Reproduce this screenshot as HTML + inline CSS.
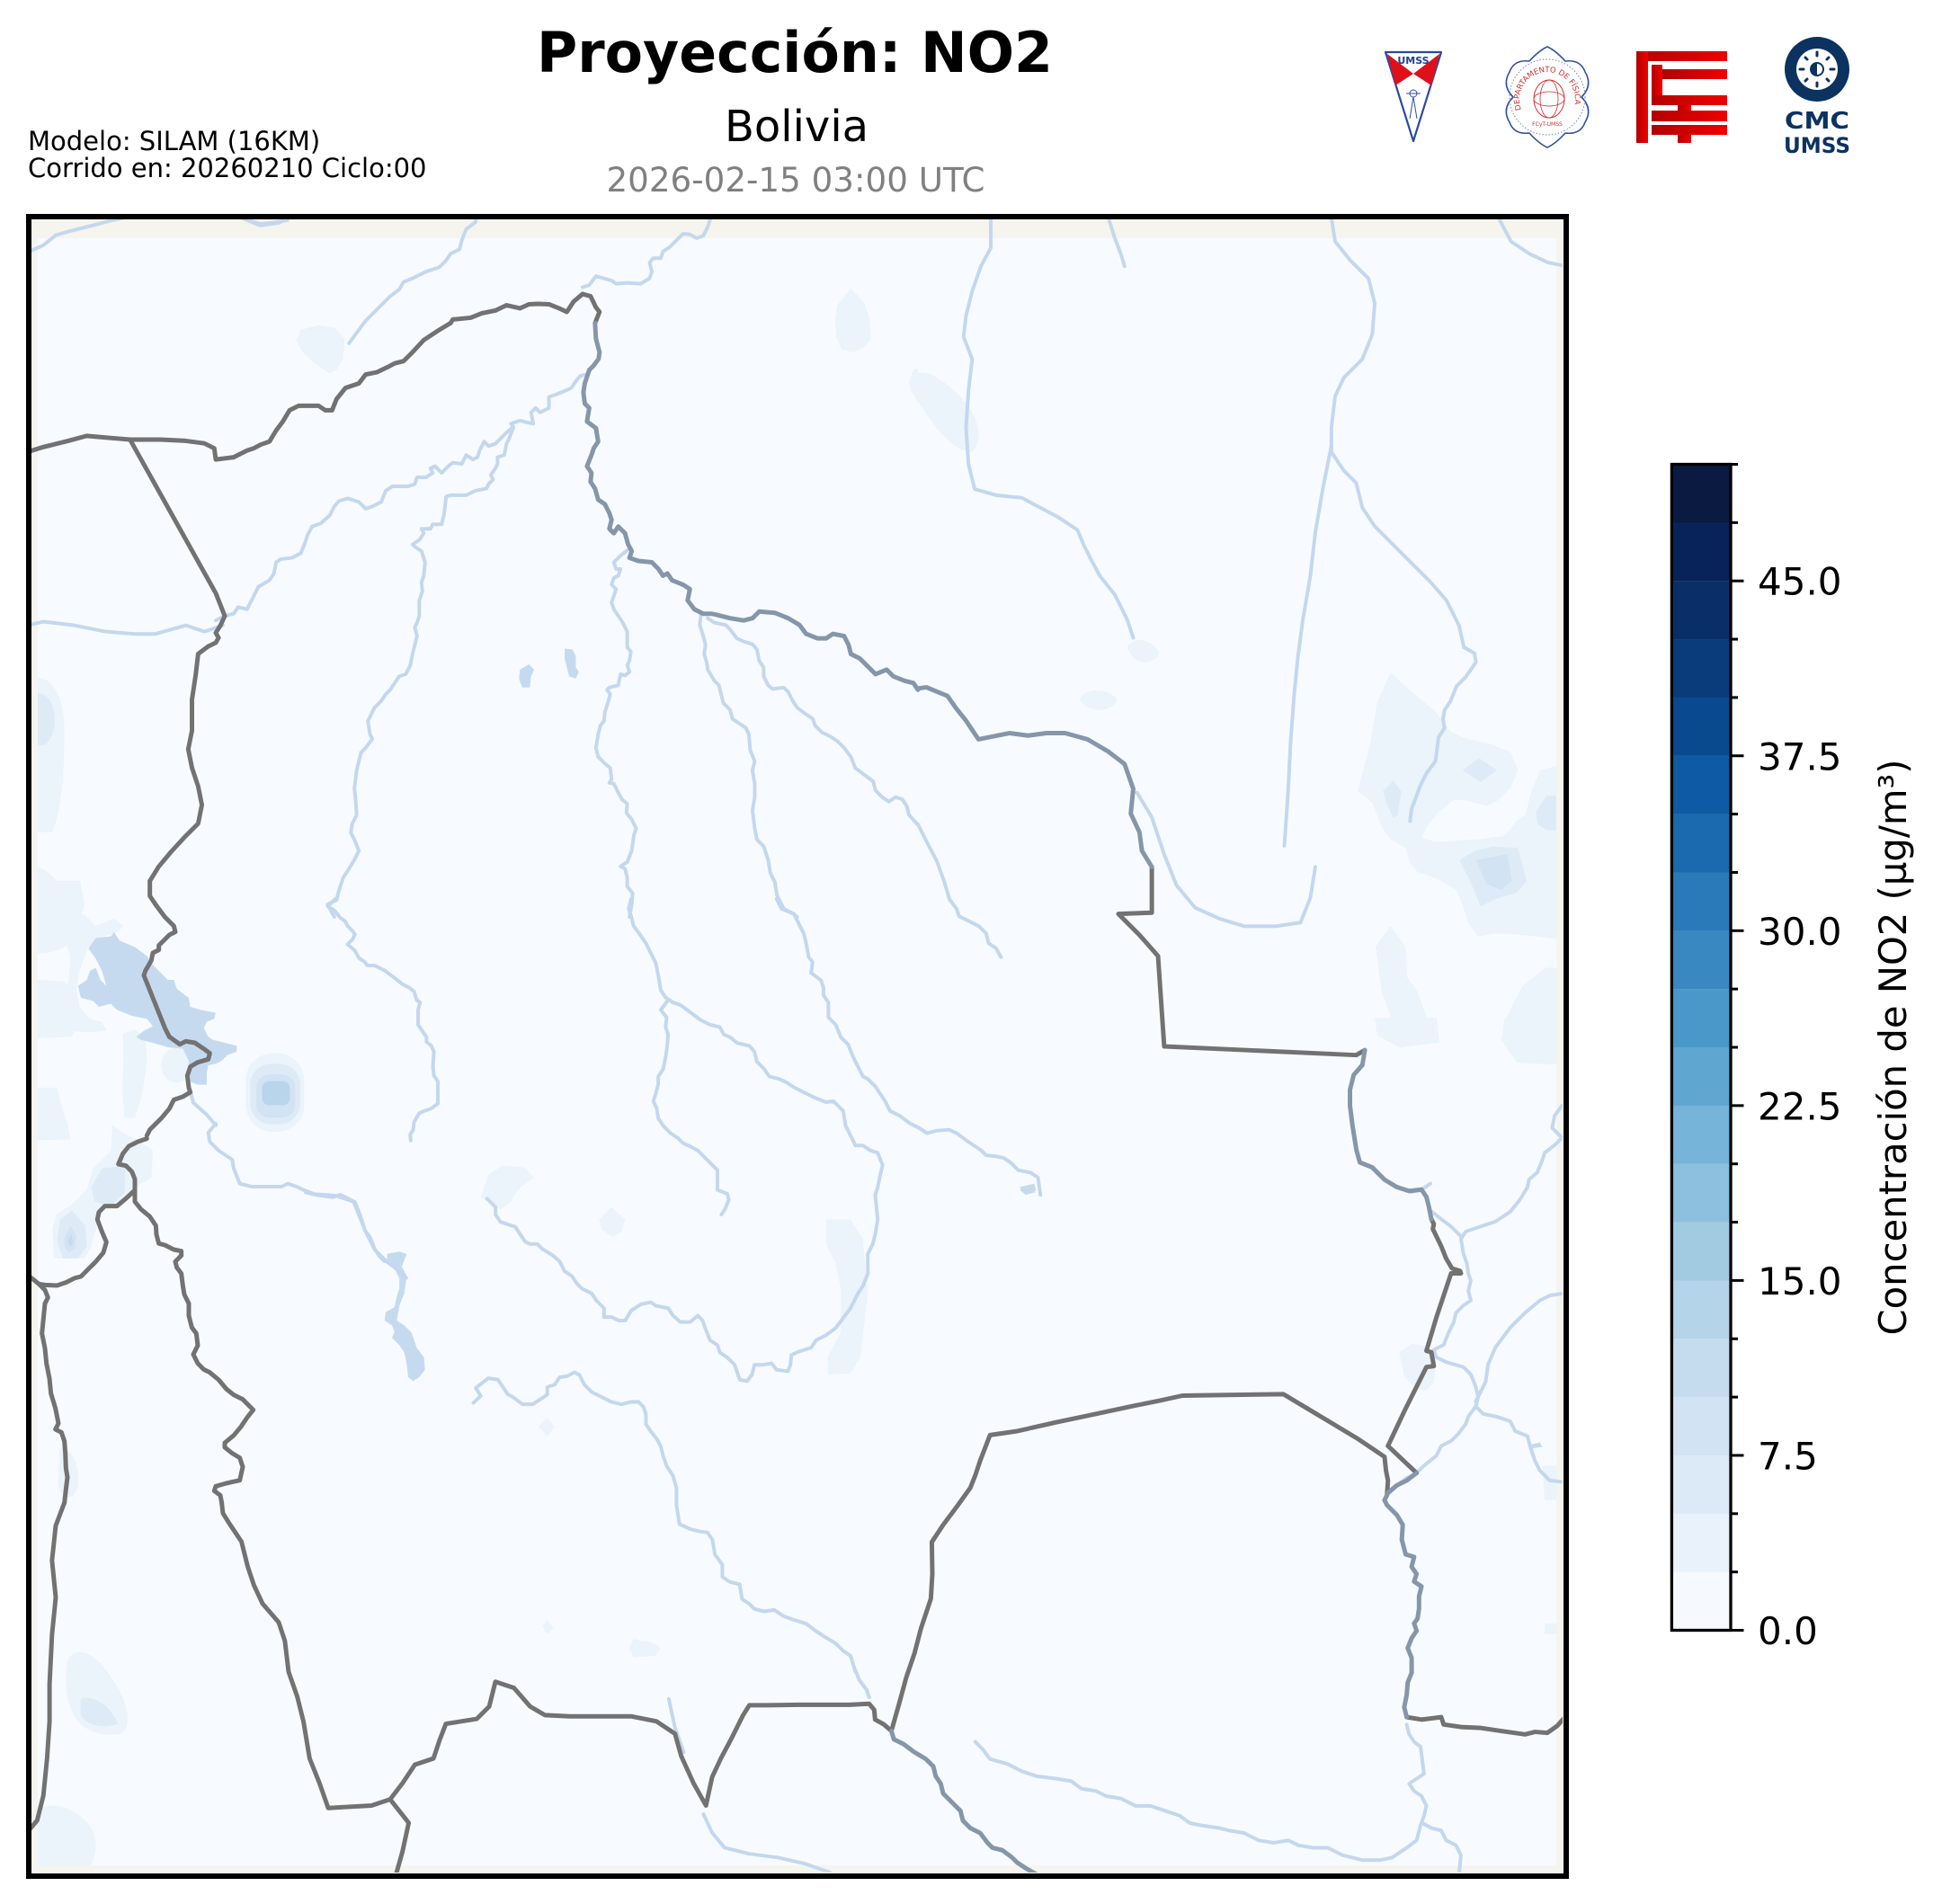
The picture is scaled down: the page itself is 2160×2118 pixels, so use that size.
<!DOCTYPE html>
<html>
<head>
<meta charset="utf-8">
<style>
html,body{margin:0;padding:0;background:#fff;}
svg{display:block;}
text{font-family:"DejaVu Sans","Liberation Sans",sans-serif;}
</style>
</head>
<body>
<svg xmlns="http://www.w3.org/2000/svg" width="2160" height="2118" viewBox="0 0 2160 2118">
<defs>
  <clipPath id="inner"><rect x="35" y="244" width="1703" height="1839"/></clipPath>
  <clipPath id="data"><rect x="42" y="265" width="1689" height="1810"/></clipPath>
  <linearGradient id="fg" x1="0" x2="1" y1="0" y2="0"><stop offset="0" stop-color="#b30000"/><stop offset="1" stop-color="#f00000"/></linearGradient>
  <path id="sealarc" d="M1692,122 A31,31 0 1 1 1750,122"/>
</defs>
<rect width="2160" height="2118" fill="#fff"/>

<!-- Header text -->
<text x="884" y="80" font-size="62" font-weight="bold" text-anchor="middle" textLength="574" lengthAdjust="spacingAndGlyphs">Proyección: NO2</text>
<text x="886" y="157" font-size="48" text-anchor="middle">Bolivia</text>
<text x="885" y="213" font-size="37" fill="#808080" text-anchor="middle" textLength="421" lengthAdjust="spacingAndGlyphs">2026-02-15 03:00 UTC</text>
<text x="31" y="167" font-size="29">Modelo: SILAM (16KM)</text>
<text x="31" y="197" font-size="29">Corrido en: 20260210 Ciclo:00</text>

<!-- Logo 1 UMSS -->
<polygon points="1541,58 1603,58 1572,157" fill="#fff" stroke="#2b4aa0" stroke-width="2.2" stroke-linejoin="round"/>
<polygon points="1543,60 1572,82 1552,95" fill="#e0101a"/>
<polygon points="1601,60 1572,82 1592,95" fill="#e0101a"/>
<text x="1572" y="71" font-size="11" font-weight="bold" fill="#1e3f9a" text-anchor="middle">UMSS</text>
<circle cx="1572" cy="104" r="4" fill="none" stroke="#3050a8" stroke-width="1"/>
<line x1="1572" y1="108" x2="1568" y2="132" stroke="#3050a8" stroke-width="1"/>
<line x1="1572" y1="108" x2="1576" y2="132" stroke="#3050a8" stroke-width="1"/>
<line x1="1564" y1="104" x2="1580" y2="104" stroke="#3050a8" stroke-width="1"/>

<!-- Logo 2 Dept Fisica -->
<path d="M1759,108 Q1772,121 1763,136 Q1758,150 1741,148 Q1730,160 1721,164 Q1712,160 1701,148 Q1684,150 1679,136 Q1670,121 1683,108 Q1670,95 1679,80 Q1684,66 1701,68 Q1712,56 1721,52 Q1730,56 1741,68 Q1758,66 1763,80 Q1772,95 1759,108Z" fill="#fff" stroke="#3050a0" stroke-width="1.6" stroke-linejoin="round"/>
<circle cx="1721" cy="108" r="42" fill="none" stroke="#7080c0" stroke-width="1" stroke-dasharray="1.5 2"/>
<ellipse cx="1723" cy="110" rx="17" ry="21" fill="none" stroke="#d03030" stroke-width="1"/>
<ellipse cx="1723" cy="110" rx="10" ry="21" fill="none" stroke="#d03030" stroke-width="0.8"/>
<ellipse cx="1723" cy="110" rx="17" ry="8" fill="none" stroke="#d03030" stroke-width="0.8"/>
<text font-size="8.5" fill="#c83030"><textPath href="#sealarc">DEPARTAMENTO DE FÍSICA</textPath></text>
<text x="1721" y="140" font-size="6" fill="#c83030" text-anchor="middle">FCyT-UMSS</text>

<!-- Logo 3 FCyT -->
<g fill="url(#fg)">
  <rect x="1820" y="57" width="101" height="11"/>
  <rect x="1820" y="57" width="13" height="102"/>
  <rect x="1849" y="77" width="72" height="11"/>
  <rect x="1837" y="72" width="12" height="45"/>
  <rect x="1837" y="106" width="84" height="11"/>
  <rect x="1866" y="117" width="15" height="7"/>
  <rect x="1837" y="123" width="84" height="12"/>
  <rect x="1837" y="139" width="84" height="11"/>
  <rect x="1866" y="150" width="15" height="9"/>
</g>

<!-- Logo 4 CMC -->
<circle cx="2021" cy="77" r="36" fill="#0c3260"/>
<circle cx="2021" cy="77" r="23" fill="#fff"/>
<circle cx="2021" cy="77" r="8" fill="#0c3260"/>
<path d="M2021,71 A6,6 0 0 1 2021,83 Z" fill="#fff"/>
<g stroke="#0c3260" stroke-width="3" stroke-linecap="round">
  <line x1="2021" y1="58" x2="2021" y2="62"/>
  <line x1="2021" y1="92" x2="2021" y2="96"/>
  <line x1="2002" y1="77" x2="2006" y2="77"/>
  <line x1="2036" y1="77" x2="2040" y2="77"/>
  <line x1="2008" y1="64" x2="2010" y2="66"/>
  <line x1="2032" y1="88" x2="2034" y2="90"/>
  <line x1="2034" y1="64" x2="2032" y2="66"/>
  <line x1="2008" y1="90" x2="2010" y2="88"/>
</g>
<text x="2021" y="143" font-size="26" font-weight="bold" fill="#0c3260" text-anchor="middle" textLength="72" lengthAdjust="spacingAndGlyphs">CMC</text>
<text x="2021" y="170" font-size="24" font-weight="bold" fill="#0c3260" text-anchor="middle" textLength="74" lengthAdjust="spacingAndGlyphs">UMSS</text>

<!-- MAP -->
<g clip-path="url(#inner)">
  <rect x="35" y="244" width="1703" height="1839" fill="#f5f5ee"/>
  <rect x="42" y="265" width="1689" height="1810" fill="#f7fbff"/>

  <!-- contour blobs -->
  <g clip-path="url(#data)">
    <g transform="scale(1.377551)" fill="#ebf3fb">
      <path d="M735,305 C745,295 760,305 775,320 C790,335 795,355 785,365 C770,365 755,345 745,330 C738,320 732,312 735,305Z"/>
      <path d="M910,522 C918,512 932,518 936,528 C930,538 915,538 910,522Z"/>
      <path d="M872,565 C875,555 895,555 902,565 C898,576 878,576 872,565Z"/>
      <path d="M28,548 C40,545 52,560 52,590 C52,620 50,655 42,672 L28,672Z"/>
      <path d="M28,700 C40,700 55,720 62,745 C62,762 50,770 28,770Z"/>
      <path d="M1110,822 L1160,822 L1162,842 L1130,846 L1112,836Z"/>
      <path d="M1215,822 L1262,815 L1262,860 L1225,858 L1212,840Z"/>
      <path d="M55,1340 C62,1328 78,1335 90,1355 C102,1372 108,1392 98,1400 C82,1403 65,1398 58,1382 C52,1368 52,1352 55,1340Z"/>
      <path d="M28,1462 C45,1452 65,1462 75,1478 C80,1492 76,1505 70,1510 L28,1510Z"/>
      <path d="M508,1330 C515,1322 530,1325 533,1332 C528,1340 512,1340 508,1330Z"/>
      <path d="M48,1170 C58,1168 65,1185 63,1200 C60,1212 50,1212 47,1200Z"/>
      <path fill="#deebf7" d="M28,560 C38,558 45,568 44,585 C42,600 35,605 28,600Z"/>
      <path fill="#deebf7" d="M65,1372 C75,1368 90,1378 95,1392 C85,1396 70,1394 65,1385Z"/>
    </g>
    <g transform="translate(30,980) scale(0.333333)" fill="#ebf3fb">
      <path d="M35,0 L178,0 L192,80 L180,115 L125,118 L100,80 L35,80Z"/>
      <path d="M125,115 L190,110 L230,150 L290,125 L322,150 L300,172 L240,190 L205,220 L175,300 L165,360 L175,420 L210,460 L250,470 L265,500 L200,505 L150,500 L130,460 L120,400 L140,330 L145,250 L120,180Z"/>
      <path d="M35,330 L120,335 L150,360 L150,440 L170,480 L150,520 L35,525Z"/>
      <path d="M35,690 L100,690 L115,750 L135,810 L145,862 L35,865Z"/>
      <path d="M320,510 L360,495 L395,525 L400,580 L395,650 L380,730 L360,790 L325,790 L318,700 L322,600Z"/>
      <ellipse cx="498" cy="615" rx="50" ry="58"/>
      <path d="M285,815 L320,840 L380,870 L420,900 L415,990 L380,1010 L330,1060 L300,1080 L260,1090 L240,1130 L210,1230 L190,1260 L90,1260 L85,1160 L100,1110 L150,1080 L200,1030 L220,960 L280,900Z"/>
      <rect x="730" y="575" width="195" height="262" rx="90"/>
      <rect x="745" y="610" width="167" height="202" rx="70" fill="#deebf7"/>
      <rect x="765" y="645" width="130" height="145" rx="45" fill="#d2e3f3"/>
      <rect x="785" y="668" width="92" height="80" rx="22" fill="#b9d5eb"/>
      <path d="M250,960 L330,950 L325,1040 L280,1085 L225,1070 L215,1020Z" fill="#deebf7"/>
      <path d="M110,1130 L150,1100 L195,1150 L200,1220 L170,1260 L120,1260 L100,1200Z" fill="#deebf7"/>
      <path d="M125,1190 L145,1150 L165,1185 L160,1225 L140,1240 L125,1220Z" fill="#d2e3f3"/>
      <path d="M135,1200 L147,1180 L155,1205 L145,1220Z" fill="#c6dbef"/>
    </g>
    <g transform="translate(1480,720) scale(0.333333)" fill="#ebf3fb">
      <path d="M90,480 L130,330 L155,185 L200,85 L260,140 L350,215 L400,280 L440,300 L540,325 L600,350 L625,410 L600,470 L560,510 L520,530 L450,510 L410,510 L360,550 L320,600 L305,635 L350,650 L420,645 L500,640 L580,630 L620,580 L650,560 L670,480 L700,410 L760,395 L760,975 L650,960 L550,955 L490,965 L460,920 L440,860 L420,810 L350,770 L290,750 L265,720 L250,670 L200,640 L170,600 L140,520Z"/>
      <path d="M150,1000 L200,930 L250,1000 L255,1100 L290,1150 L330,1260 L210,1260 L170,1150Z"/>
      <path d="M575,1260 L640,1130 L715,1070 L760,1070 L760,1260Z"/>
      <g fill="#deebf7">
        <path d="M175,480 L210,445 L235,480 L225,560 L210,570 L190,530Z"/>
        <path d="M440,410 L495,370 L555,410 L500,450Z"/>
        <path d="M430,710 L480,680 L540,665 L625,670 L655,780 L620,820 L550,840 L500,865 L470,790Z"/>
        <path d="M685,550 L720,495 L760,495 L760,610 L720,610 L690,590Z"/>
      </g>
      <path d="M485,710 L590,690 L605,780 L570,810 L520,790Z" fill="#d2e3f3"/>
    </g>
    <g transform="translate(240,240) scale(0.497449)" fill="#ebf3fb">
      <path d="M180,280 L190,255 L230,245 L265,250 L288,275 L285,320 L270,345 L255,353 L220,330 L195,305Z"/>
      <path d="M1385,230 L1390,200 L1420,162 L1450,195 L1462,230 L1465,275 L1450,295 L1425,305 L1400,300 L1387,270Z"/>
      <path d="M1550,370 L1560,345 L1570,340 L1570,410 L1555,395Z"/>
    </g>
    <g transform="translate(340,1000) scale(0.548469)" fill="#ebf3fb">
      <path d="M355,605 L370,560 L400,540 L445,545 L462,565 L430,590 L415,615 L395,630 L370,615Z"/>
      <path d="M595,650 L620,625 L648,650 L640,675 L622,685 L600,670Z"/>
      <path d="M1055,650 L1105,650 L1130,690 L1140,800 L1125,930 L1105,962 L1060,965 L1058,930 L1085,880 L1085,790 L1075,740 L1055,700Z"/>
      <path d="M472,1070 L490,1052 L505,1070 L490,1090Z"/>
      <path d="M480,1475 L490,1462 L502,1478 L490,1492Z"/>
      <path d="M655,1520 L665,1500 L715,1515 L710,1535 L665,1538Z"/>
    </g>
    <g transform="translate(890,1230) scale(0.548469)" fill="#ebf3fb">
      <path d="M1215,500 L1240,482 L1275,490 L1290,520 L1285,560 L1270,578 L1250,575 L1225,550Z"/>
      <path d="M1505,730 L1560,730 L1560,800 L1510,800Z"/>
      <path d="M1510,1050 L1535,1050 L1535,1072 L1510,1072Z"/>
    </g>
  </g>

  <!-- lakes -->
  <g fill="#c6daef">
    <path transform="translate(30,980) scale(0.333333)" d="M205,225 L230,190 L280,185 L290,170 L310,200 L360,220 L400,250 L420,280 L440,300 L470,330 L490,330 L500,360 L540,390 L545,420 L580,430 L630,440 L625,460 L600,470 L590,490 L605,520 L620,530 L660,540 L700,550 L700,570 L670,580 L650,600 L630,610 L605,615 L600,640 L600,680 L570,680 L545,670 L535,650 L540,600 L520,560 L470,555 L420,540 L380,530 L365,520 L390,500 L420,485 L400,460 L350,450 L300,430 L280,410 L240,420 L220,400 L180,390 L170,350 L200,330 L210,300 L230,290 L245,330 L265,350 L250,300 L230,260Z"/>
    <g transform="translate(240,240) scale(0.497449)">
      <path d="M680,1015 L700,1003 L712,1015 L705,1030 L702,1055 L685,1055 L678,1035Z"/>
      <path d="M780,968 L798,970 L805,985 L805,1010 L812,1020 L805,1035 L790,1030 L785,1010 L780,990Z"/>
    </g>
    <g transform="translate(340,1000) scale(0.548469)">
      <path d="M165,720 L190,715 L205,720 L195,745 L205,765 L200,800 L190,825 L185,855 L200,865 L215,880 L225,910 L240,930 L242,955 L230,970 L218,978 L208,970 L205,945 L200,920 L190,905 L175,890 L180,878 L175,865 L160,855 L162,838 L180,828 L185,805 L190,790 L190,770 L180,750 L165,740Z"/>
      <path d="M1448,590 L1470,580 L1480,595 L1460,600Z"/>
    </g>
    <g transform="translate(890,1230) scale(0.548469)">
      <path d="M445,165 L475,158 L478,172 L455,178Z"/>
      <path d="M1478,688 L1500,683 L1505,692 L1485,695Z"/>
    </g>
  </g>

  <!-- rivers -->
  <g fill="none" stroke="#c4d7ee" stroke-linejoin="round" stroke-linecap="round">
    <g transform="scale(1.377551)" stroke-width="2.9">
      <polyline points="22,204 35,198 45,190 55,187 75,182 90,178 100,176"/>
      <polyline points="195,176 210,182 225,180 233,176"/>
      <polyline points="22,505 35,502 60,505 85,510 110,512 125,512 150,505 165,510 180,505"/>
      <polyline points="800,176 800,200 792,215 785,235 780,255 778,272 785,290 782,315 780,345 782,375 787,395 805,400 825,402 840,410 855,418 870,428 875,440 880,450 888,465 900,480 910,500 915,515"/>
      <polyline points="895,176 900,192 905,205 908,215"/>
      <polyline points="1075,176 1078,195 1090,210 1105,225 1110,245 1108,270 1100,290 1085,305 1078,320 1075,345 1075,365 1085,380 1095,390 1100,410 1110,425 1125,440 1140,455 1155,470 1168,485 1178,505 1182,522.7"/>
      <polyline points="1075,360 1068,395 1062,430 1058,465 1052,500 1048,530 1045,560 1042,600 1040,640 1037,683"/>
      <polyline points="1210,176 1220,195 1235,205 1250,212 1265,215"/>
      <polyline points="918,640 930,660 940,690 950,715 965,733 985,742 1005,748 1030,748 1050,745 1058,725 1062,700"/>
      <polyline points="568,1465 575,1480 585,1492 605,1497 628,1500 650,1505 670,1512"/>
      <polyline points="540,1372 545,1395 552,1415"/>
    </g>
    <polyline stroke-width="4" points="1021,917 1030,935 1042,958 1050,980 1056,1000"/>
    <g transform="translate(240,240) scale(0.497449)" stroke-width="8">
      <polyline points="0,905 20,895 40,890 50,875 70,880 85,850 95,830 120,815 130,800 135,775 145,768 170,765 190,755 200,730 205,715 215,695 235,688 255,670 265,650 275,638 295,632 320,640 335,655 350,650 370,640 380,615 395,605 430,605 445,600 450,585 470,585 485,575 480,565 490,560 505,575 520,560 530,552 550,555 560,535 575,545 585,540 590,525 600,505 610,515 625,510 640,495 650,485 665,472 660,465 680,458 695,462 710,465 705,440 715,430 725,440 745,430 745,405 760,400 780,392 795,385 805,370 815,358 830,355"/>
      <polyline points="665,475 655,500 650,510 645,535 630,540 630,555 625,565 615,580 620,590 610,600 605,610 580,615 560,625 525,625 515,628 512,655 510,670 505,690 485,690 480,700 460,700 465,710 455,725 440,735 445,740 460,750 468,775 465,805 460,820 462,840 455,860 455,885 455,895 450,910 445,920 450,940 440,980 435,1005 425,1025 410,1030 400,1045 390,1060 380,1070 370,1085 355,1100 340,1130 345,1160 350,1170 335,1190 325,1200 320,1220 315,1240 310,1280 313,1310 315,1340 305,1360 302,1380 310,1395 320,1420 310,1440 295,1465 285,1480 275,1510 270,1530 250,1540 265,1568"/>
      <polyline points="298,285 320,255 335,235 350,220 370,200 390,180 410,165 420,148 440,140 470,125 500,115 515,100 525,85 545,75 550,55 560,30 580,15 585,0"/>
      <polyline points="820,160 835,155 850,135 885,145 895,152 920,150 950,152 970,140 975,125 970,105 978,95 995,95 1000,80 1015,70 1030,55 1045,40 1060,42 1075,50 1090,45 1100,25 1108,0"/>
      <polyline points="70,10 100,18 130,15 160,10"/>
      <polyline points="920,748 905,760 890,775 895,790 905,790 900,805 890,810 885,825 895,835 890,850 885,865 890,880 910,910 920,930 920,965 928,975 925,995 920,1005 925,1020 915,1028 905,1025 900,1050 880,1055 875,1060 882,1070 878,1085 870,1110 868,1130 860,1140 855,1160 850,1190 855,1210 870,1225 882,1235 885,1260 880,1268 890,1270 900,1290 908,1305 920,1315 918,1335 930,1350 940,1370 935,1385 930,1420 920,1445 905,1455 915,1460 920,1480 920,1500 932,1515 930,1540 925,1568"/>
      <polyline points="1085,890 1082,915 1090,940 1095,960 1092,980 1098,1000 1100,1015 1115,1040 1125,1050 1130,1070 1135,1090 1150,1105 1155,1125 1170,1135 1185,1145 1192,1160 1195,1195 1205,1220 1200,1240 1205,1270 1205,1300 1200,1330 1205,1370 1210,1395 1225,1410 1235,1440 1240,1470 1250,1490 1255,1520 1270,1550 1290,1560 1300,1568"/>
      <polyline points="1100,900 1115,910 1140,915 1150,925 1165,945 1180,952 1200,958 1210,970 1215,995 1225,1010 1225,1030 1235,1050 1245,1058 1270,1055 1280,1065 1290,1085 1300,1100 1320,1115 1335,1125 1340,1140 1355,1155 1375,1165 1390,1175 1405,1190 1420,1210 1430,1235 1450,1250 1470,1265 1475,1285 1490,1300 1505,1310 1520,1300 1535,1305 1545,1320 1550,1340 1570,1362"/>
    </g>
    <g transform="translate(30,980) scale(0.333333)" stroke-width="12">
      <polyline points="545,700 555,740 600,780 630,815"/>
    </g>
    <g transform="translate(30,1250) scale(0.333333)" stroke-width="12">
      <polyline points="630,0 605,30 610,60 640,90 685,120 690,150 710,200 750,210 800,210 850,210 870,200 900,210 920,220 960,235 1030,240 1090,260 1110,310 1130,360 1160,420 1200,460 1240,490 1265,515"/>
    </g>
    <g transform="translate(1480,720) scale(0.333333)" stroke-width="12">
      <polyline points="445,0 480,20 485,50 450,100 420,130 400,180 380,210 375,240 380,270 360,300 355,340 350,380 320,420 300,460 285,500 270,540 265,580"/>
    </g>
    <g transform="translate(340,1000) scale(0.548469)" stroke-width="7.3">
      <polyline points="60,0 45,15 60,25 70,38 80,45 85,55 95,65 100,72 95,82 85,92 100,105 108,120 120,128 125,135 140,135 160,145 180,160 195,172 210,180 220,188 225,205 232,210 228,225 228,255 238,270 245,280 245,290 255,298 260,310 258,340 260,358 268,370 268,400 268,415 255,425 240,430 230,435 220,452 218,468 212,478 213,490"/>
      <polyline points="660,0 655,20 660,35 665,55 680,75 690,90 700,110 710,130 715,155 720,185 730,200 745,210 760,215 780,230 800,245 820,255 840,260 848,275 860,280 875,292 900,298 910,310 915,330 930,345 940,360 960,365 975,372 990,382 1010,392 1030,402 1055,412 1070,410 1090,430 1095,460 1105,480 1115,500 1130,500 1145,510 1160,515 1170,540 1165,560 1160,585 1155,600 1160,650 1155,680 1150,700 1140,720 1140,760 1130,785 1120,800 1105,830 1090,850 1075,870 1055,885 1035,895 1025,910 1000,918 985,925 983,945 978,958 955,955 945,942 925,945 910,945 905,965 895,978 880,975 870,945 855,930 840,920 835,905 820,895 810,870 805,855 795,845 780,858 760,858 745,845 735,830 710,825 700,818 680,822 660,835 648,855 635,855 620,848 605,848 605,830 590,815 580,800 560,790 550,780 540,765 525,755 515,735 500,722 480,710 470,700 455,700 445,695 435,680 425,665 410,660 395,655 385,640 385,625 375,615 368,608"/>
      <polyline points="735,205 720,225 732,240 730,260 735,275 733,300 730,320 725,345 715,360 715,375 710,395 705,410 712,425 715,445 725,460 740,475 755,485 765,495 780,502 795,510 810,525 825,540 835,550 835,570 835,590 855,598 858,610 850,630 843,640"/>
      <polyline points="955,0 965,20 990,30 1000,50 1010,70 1015,90 1020,118 1028,128 1025,150 1045,165 1050,180 1050,195 1060,210 1060,240 1075,255 1085,280 1100,295 1110,320 1120,340 1130,360 1140,365 1155,380 1165,395 1175,410 1185,430 1205,440 1225,455 1245,465 1260,475 1280,470 1305,468 1320,475 1340,490 1355,500 1370,510 1380,520 1400,522 1415,525 1430,535 1445,550 1470,555 1485,565 1490,600"/>
      <polyline points="1305,0 1320,20 1325,35 1345,45 1365,55 1380,70 1385,90 1400,100 1410,118"/>
      <polyline points="0,595 20,600 55,605 70,600 85,607 100,615 108,635 115,655 120,672 130,685 140,710 150,725 160,735"/>
      <polyline points="340,1022 355,1008 345,992 360,980 370,972 390,975 400,990 410,1005 420,1010 440,1025 460,1025 480,1012 490,1005 490,990 505,985 515,970 530,968 545,960 555,965 565,985 580,1000 600,1010 620,1020 640,1025 660,1020 675,1020 685,1030 690,1045 690,1065 700,1080 712,1095 720,1110 725,1130 732,1150 745,1170 752,1195 752,1230 758,1268 780,1278 800,1283 815,1285 825,1300 830,1330 845,1350 845,1375 860,1385 880,1390 885,1420 900,1430 910,1440 930,1445 950,1442 970,1455 990,1462 1015,1470 1035,1485 1050,1495 1075,1510 1090,1525 1105,1535 1115,1568"/>
    </g>
    <g transform="translate(890,1230) scale(0.548469)" stroke-width="7.3">
      <polyline points="110,1140 120,1165 135,1185 140,1200"/>
      <polyline points="355,1290 370,1305 385,1325 420,1335 450,1350 480,1360 520,1365 550,1370 570,1385 600,1390 620,1400 650,1405 680,1420 710,1420 740,1430 770,1440 790,1455 815,1460 850,1465 870,1470 900,1475 930,1490 960,1495 990,1490 1010,1500 1040,1505 1070,1505 1100,1520 1140,1530 1175,1530 1200,1525 1230,1505 1250,1490 1258,1460 1265,1440 1270,1420 1260,1400 1245,1390 1235,1375 1250,1365 1265,1355 1262,1330 1258,1300 1245,1290 1235,1275 1230,1255"/>
      <polyline points="1262,1455 1280,1465 1300,1470 1310,1490 1330,1500 1340,1520 1335,1570"/>
      <polyline points="1190,790 1210,770 1230,755 1250,745 1265,730 1290,710 1300,690 1320,680 1335,665 1350,645 1355,630 1370,610 1375,590 1370,570 1360,545 1345,530 1310,520 1290,510 1285,495 1305,485 1315,460 1325,440 1330,420 1345,405 1360,395 1355,375 1360,355 1355,340 1352,320 1345,300 1340,270 1350,255 1380,245 1410,235 1440,215 1460,190 1475,165 1478,150 1495,135 1505,110 1510,95 1530,80 1545,65"/>
      <polyline points="1545,0 1530,20 1525,45 1545,65 1565,80"/>
      <polyline points="1370,610 1385,625 1410,630 1440,640 1450,660 1475,670 1480,690 1490,720 1500,740 1520,760 1565,765"/>
      <polyline points="1370,600 1390,560 1395,525 1410,490 1440,450 1470,420 1500,395 1520,385 1565,378"/>
      <polyline points="1240,175 1260,170 1278,158"/>
      <polyline points="1275,210 1300,230 1320,245 1340,265"/>
    </g>
  </g>

  <!-- borders -->
  <g fill="none" stroke-linejoin="round" stroke-linecap="round">
    <g transform="scale(1.377551)" stroke-width="3.6">
      <g stroke="#727272">
        <polyline points="22,365 35,361 55,356 70,352 105,355 130,355 150,356 165,358 173,362 174.2,371"/>
        <polyline points="105,355 174.2,479 181.5,497.4 178,505 174.2,511 176.5,515 174.2,519 168,522 160,528 158,545 155,565 155,590 152,605 155,620 160,635 163,650 160,665 150,675 138,688 128,700 121,711.4"/>
        <polyline points="179,1213.5 180,1222 185,1230 195,1245 200,1265 205,1280 212,1295 225,1310 230,1325 233,1350 240,1370 245,1390 250,1420 258,1440 265,1460 300,1458 315,1453 325,1440 335,1425 350,1420 355,1405 360,1392 385,1388 395,1378 400,1358 415,1363 428,1378 440,1385 460,1386 510,1386 530,1390 545,1400 550,1418 560,1440 570,1458 575,1435 582,1420 590,1405 600,1385 605,1377 620,1377 646,1376.6"/>
        <polyline points="315,1453 330,1472 325,1495 318,1520"/>
        <polyline points="52,1213.5 45,1232 42,1260 45,1290 42,1320 40,1360 40,1390 38,1420 35,1450 30,1470 20,1482"/>
        <polyline points="930,700 930,737 903,738 920,755 935,772 940,845 1095,852 1102,848"/>
      </g>
      <g stroke="#8696aa">
        <polyline points="740.4,556 748,555 765,562 772,572 780,582 790,597 815,592 830,594 845,592 860,592 878,597 895,607 908,617 915,637 913,657 920,672 922,687 930,700"/>
        <polyline points="1102,848 1100,860 1093,868 1090,880 1090,892.9"/>
      </g>
    </g>
    <g transform="translate(240,240) scale(0.497449)" stroke-width="10">
      <polyline stroke="#727272" points="0,545 40,540 70,525 85,520 100,512 120,505 135,480 150,460 165,435 185,425 230,425 245,435 260,435 270,410 290,385 320,375 335,355 360,350 385,338 400,330 420,325 440,305 465,278 500,255 525,240 530,232 570,228 595,218 625,212 650,200 680,207 700,198 720,197 745,198 770,208 785,215 800,192 820,175 838,180 850,205 858,215 848,240"/>
      <polyline stroke="#8696aa" points="848,240 850,275 858,305 856,320 845,335 835,345 825,375 822,395 825,420 835,430 830,460 850,475 855,505 845,520 840,535 830,560 840,575 838,595 848,610 855,635 870,645 880,665 885,680 880,700 890,710 900,695 915,710 922,735 930,750 925,765 945,772 975,775 990,790 1000,805 1010,800 1020,815 1045,825 1060,835 1055,860 1070,880 1090,890 1110,890 1130,895 1150,900 1180,905 1200,900 1215,885 1250,888 1280,900 1305,915 1320,935 1345,945 1365,945 1380,935 1405,940 1415,960 1420,980 1440,990 1460,1010 1475,1025 1500,1015 1515,1030 1540,1040 1560,1045 1570,1060"/>
    </g>
    <g transform="translate(30,980) scale(0.333333)" stroke-width="15" stroke="#727272">
      <polyline points="410,0 410,50 430,80 460,120 490,150 495,170 475,180 460,195 440,215 440,230 420,240 415,265 395,300 390,315 400,340 420,390 440,440 460,490 475,520 510,545 530,535 560,540 590,560 610,575 605,595 570,605 545,620 535,650 540,690 545,705 520,720 490,730 475,760 450,790 430,810 410,830 400,850"/>
    </g>
    <g transform="translate(30,1250) scale(0.333333)" stroke-width="15" stroke="#727272">
      <polyline points="400,50 370,60 340,75 320,100 305,135 330,140 350,160 360,185 360,225 360,260 380,285 410,310 430,340 432,370 440,400 460,405 490,420 515,425 515,440 495,460 500,480 515,500 520,540 525,570 540,600 540,640 550,680 565,700 570,740 555,770 570,800 590,820 610,830 640,855 665,885 690,905 720,920 755,955 735,980 715,1010 690,1040 660,1065 660,1080 685,1100 710,1115 720,1145 710,1190 665,1200 630,1210 625,1225 645,1240 650,1265"/>
      <polyline points="360,222 330,250 300,275 260,275 240,295 235,320 250,360 265,395 255,430 230,460 205,485 180,510 160,515 130,530 100,540 60,538 40,535 15,515 0,505"/>
      <polyline points="40,535 60,555 70,580 60,600 55,650 50,700 60,750 65,800 75,850 80,900 95,950 105,1000 95,1020 115,1030 125,1060 128,1100 130,1150 135,1180 130,1220 125,1265"/>
    </g>
    <g transform="translate(890,1230) scale(0.548469)" stroke-width="9.1">
      <g stroke="#727272">
        <polyline points="0,1215 100,1215 140,1213 150,1225 152,1245 170,1255 185,1268"/>
        <polyline points="185,1268 200,1215 215,1160 232,1110 245,1060 265,1000 268,950 267,885 290,850 320,810 345,775 355,750 365,720 385,668 440,660 520,642 600,625 680,608 730,598 775,588 980,585 1030,615 1080,645 1130,675 1185,712 1188,740 1192,760 1190,790"/>
        <polyline points="1230,1240 1260,1245 1300,1240 1305,1255 1340,1260 1380,1262 1420,1268 1470,1275 1490,1270 1515,1272 1535,1258 1560,1230"/>
        <polyline points="1192,690 1250,745"/>
        <polyline points="1192,690 1225,620 1270,530 1285,528 1280,500 1270,497 1290,430 1320,340 1340,340 1338,335 1322,330 1310,310 1300,285 1283,250 1285,240 1280,230"/>
      </g>
      <g stroke="#8696aa">
        <polyline points="185,1268 190,1285 210,1295 230,1310 255,1325 270,1340 275,1360 285,1375 290,1395 310,1415 325,1430 330,1450 345,1465 365,1475 380,1495 390,1505 410,1510 430,1525 440,1535 460,1548 490,1565"/>
        <polyline points="1190,790 1185,800 1190,810 1210,830 1222,850 1220,880 1228,910 1245,915 1240,935 1250,950 1245,965 1260,975 1255,995 1255,1020 1252,1040 1245,1050 1250,1065 1240,1080 1232,1100 1240,1120 1240,1150 1232,1170 1230,1195 1225,1220 1230,1240"/>
        <polyline points="1250,745 1230,760 1210,770 1192,785"/>
        <polyline points="1280,230 1275,205 1270,185 1260,170 1235,173 1210,165 1185,150 1160,125 1135,115 1128,90 1120,40 1115,0"/>
      </g>
    </g>
  </g>
</g>

<!-- axes frame -->
<rect x="32" y="241" width="1710" height="1846" fill="none" stroke="#000" stroke-width="6"/>

<!-- colorbar -->
<g>
  <rect x="1860" y="516.5" width="65" height="65" fill="#0a1a40"/>
  <rect x="1860" y="581.35" width="65" height="65" fill="#08235a"/>
  <rect x="1860" y="646.2" width="65" height="65" fill="#0a2f68"/>
  <rect x="1860" y="711.05" width="65" height="65" fill="#0a3b7a"/>
  <rect x="1860" y="775.9" width="65" height="65" fill="#094a8f"/>
  <rect x="1860" y="840.75" width="65" height="65" fill="#0e5aa4"/>
  <rect x="1860" y="905.6" width="65" height="65" fill="#1b69af"/>
  <rect x="1860" y="970.45" width="65" height="65" fill="#2a7aba"/>
  <rect x="1860" y="1035.3" width="65" height="65" fill="#3a88c1"/>
  <rect x="1860" y="1100.15" width="65" height="65" fill="#4a98c9"/>
  <rect x="1860" y="1165" width="65" height="65" fill="#5fa6d1"/>
  <rect x="1860" y="1229.85" width="65" height="65" fill="#76b4d9"/>
  <rect x="1860" y="1294.7" width="65" height="65" fill="#8cc0de"/>
  <rect x="1860" y="1359.55" width="65" height="65" fill="#a2cbe2"/>
  <rect x="1860" y="1424.4" width="65" height="65" fill="#b4d4e9"/>
  <rect x="1860" y="1489.25" width="65" height="65" fill="#c5dcef"/>
  <rect x="1860" y="1554.1" width="65" height="65" fill="#d2e3f3"/>
  <rect x="1860" y="1618.95" width="65" height="65" fill="#dce9f6"/>
  <rect x="1860" y="1683.8" width="65" height="65" fill="#e9f2fa"/>
  <rect x="1860" y="1748.65" width="65" height="64.85" fill="#f6fafe"/>
  <rect x="1859.4" y="516.5" width="65.6" height="1297" fill="none" stroke="#000" stroke-width="3.3"/>
  <g stroke="#000" stroke-width="3">
    <line x1="1925" y1="1813.5" x2="1939.5" y2="1813.5"/>
    <line x1="1925" y1="1748.65" x2="1933" y2="1748.65"/>
    <line x1="1925" y1="1683.8" x2="1933" y2="1683.8"/>
    <line x1="1925" y1="1618.95" x2="1939.5" y2="1618.95"/>
    <line x1="1925" y1="1554.1" x2="1933" y2="1554.1"/>
    <line x1="1925" y1="1489.25" x2="1933" y2="1489.25"/>
    <line x1="1925" y1="1424.4" x2="1939.5" y2="1424.4"/>
    <line x1="1925" y1="1359.55" x2="1933" y2="1359.55"/>
    <line x1="1925" y1="1294.7" x2="1933" y2="1294.7"/>
    <line x1="1925" y1="1229.85" x2="1939.5" y2="1229.85"/>
    <line x1="1925" y1="1165" x2="1933" y2="1165"/>
    <line x1="1925" y1="1100.15" x2="1933" y2="1100.15"/>
    <line x1="1925" y1="1035.3" x2="1939.5" y2="1035.3"/>
    <line x1="1925" y1="970.45" x2="1933" y2="970.45"/>
    <line x1="1925" y1="905.6" x2="1933" y2="905.6"/>
    <line x1="1925" y1="840.75" x2="1939.5" y2="840.75"/>
    <line x1="1925" y1="775.9" x2="1933" y2="775.9"/>
    <line x1="1925" y1="711.05" x2="1933" y2="711.05"/>
    <line x1="1925" y1="646.2" x2="1939.5" y2="646.2"/>
    <line x1="1925" y1="581.35" x2="1933" y2="581.35"/>
    <line x1="1925" y1="516.5" x2="1933" y2="516.5"/>
  </g>
  <g font-size="42" fill="#000">
    <text x="1955" y="1829">0.0</text>
    <text x="1955" y="1634.5">7.5</text>
    <text x="1955" y="1440">15.0</text>
    <text x="1955" y="1245.4">22.5</text>
    <text x="1955" y="1050.8">30.0</text>
    <text x="1955" y="856.3">37.5</text>
    <text x="1955" y="661.7">45.0</text>
  </g>
  <text transform="translate(2120,1165) rotate(-90)" x="0" y="0" font-size="42" text-anchor="middle" textLength="641" lengthAdjust="spacingAndGlyphs">Concentración de NO2 (µg/m³)</text>
</g>
</svg>
</body>
</html>
